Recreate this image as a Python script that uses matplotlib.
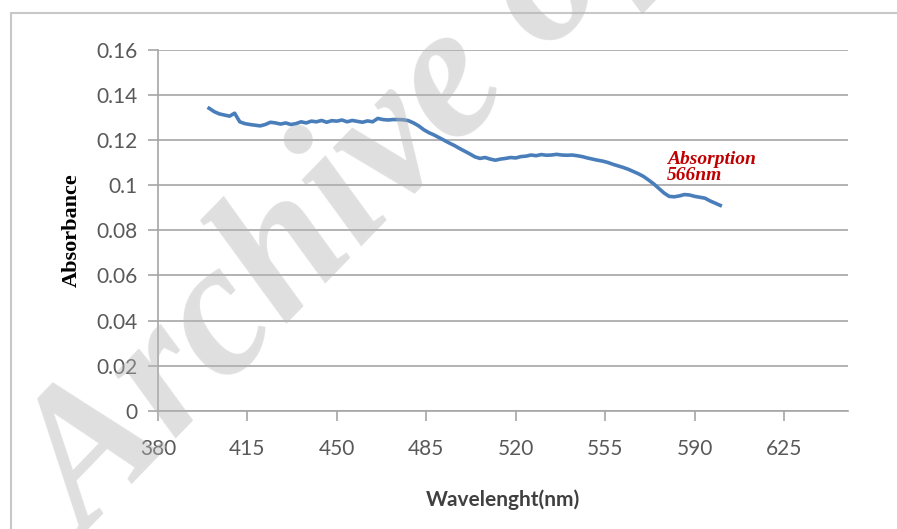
import numpy as np
import matplotlib
matplotlib.use("Agg")
import matplotlib.pyplot as plt
from matplotlib.ticker import FuncFormatter
from matplotlib.patches import Rectangle

# spectrum, 2 nm steps from 400 to 600 nm
wavelength = np.arange(400, 601, 2)
absorbance = [
    0.1340, 0.1325, 0.1315, 0.1310, 0.1305, 0.1318, 0.1280, 0.1272, 0.1268, 0.1265,
    0.1262, 0.1268, 0.1278, 0.1275, 0.1270, 0.1275, 0.1268, 0.1272, 0.1280, 0.1275,
    0.1283, 0.1280, 0.1286, 0.1278, 0.1285, 0.1283, 0.1288, 0.1280, 0.1286, 0.1282,
    0.1278, 0.1284, 0.1280, 0.1295, 0.1290, 0.1288, 0.1290, 0.1290, 0.1289, 0.1285,
    0.1275, 0.1262, 0.1245, 0.1232, 0.1222, 0.1210, 0.1198, 0.1186, 0.1175, 0.1162,
    0.1150, 0.1138, 0.1125, 0.1118, 0.1122, 0.1115, 0.1110, 0.1115, 0.1118, 0.1122,
    0.1120, 0.1126, 0.1128, 0.1133, 0.1130, 0.1135, 0.1132, 0.1133, 0.1136, 0.1133,
    0.1132, 0.1133, 0.1130, 0.1126, 0.1120, 0.1115, 0.1110, 0.1106, 0.1100, 0.1092,
    0.1085, 0.1078, 0.1070, 0.1060, 0.1050, 0.1038, 0.1022, 0.1005, 0.0985, 0.0965,
    0.0950, 0.0948, 0.0952, 0.0958, 0.0956, 0.0950, 0.0946, 0.0942, 0.0930, 0.0920,
    0.0910,
]

x_ticks = [380, 415, 450, 485, 520, 555, 590, 625]
y_ticks = [0, 0.02, 0.04, 0.06, 0.08, 0.1, 0.12, 0.14, 0.16]
peak_label = "Absorption\n566nm"

fig = plt.figure(figsize=(8.97, 5.29), dpi=100)
ax = fig.add_axes([0.1761, 0.2231, 0.7693, 0.6833])

# chart area frame (only left/top edges show in the picture)
fig.add_artist(Rectangle((11 / 897, -0.05), 1.2, 1 - 13 / 529 + 0.05,
                         transform=fig.transFigure, fill=False,
                         edgecolor="#c8c8c8", linewidth=1.5))

ax.plot(wavelength, absorbance, color="#4a7ebb", linewidth=2.6, zorder=3)

ax.set_xlim(380, 650)
ax.set_ylim(0, 0.16)
ax.set_xticks(x_ticks)
ax.set_yticks(y_ticks)
ax.yaxis.set_major_formatter(FuncFormatter(lambda v, p: f"{v:g}"))

ax.grid(axis="y", color="#a6a6a6", linewidth=1.2)
ax.set_axisbelow(True)
for s in ["top", "right"]:
    ax.spines[s].set_visible(False)
for s in ["left", "bottom"]:
    ax.spines[s].set_color("#a6a6a6")
    ax.spines[s].set_linewidth(1.2)
ax.tick_params(axis="both", colors="#a6a6a6", length=7, width=1.2,
               labelcolor="#595959", labelsize=15)
ax.tick_params(axis="y", pad=8)
ax.tick_params(axis="x", pad=13)
for lab in ax.get_xticklabels() + ax.get_yticklabels():
    lab.set_family("Lato")

ax.set_xlabel("Wavelenght(nm)", family="Lato", fontweight="bold",
              fontsize=15, color="#404040", labelpad=22)
ax.set_ylabel("Absorbance", family="Liberation Serif", fontweight="bold",
              fontsize=16, color="black", labelpad=10)

ax.text(579, 0.1005, peak_label, family="Liberation Serif", style="italic",
        fontweight="bold", color="#c00000", fontsize=14, linespacing=0.95,
        ha="left", va="bottom", zorder=4)

# watermark across the chart
fig.text(88 / 897, 1 - 540 / 529, "Archive of SID", family="Liberation Serif",
         style="italic", fontweight="bold", fontsize=138, color="#b4b4b4",
         alpha=0.42, rotation=46, rotation_mode="anchor",
         ha="left", va="baseline", zorder=10)

fig.savefig("out.png", dpi=100)
